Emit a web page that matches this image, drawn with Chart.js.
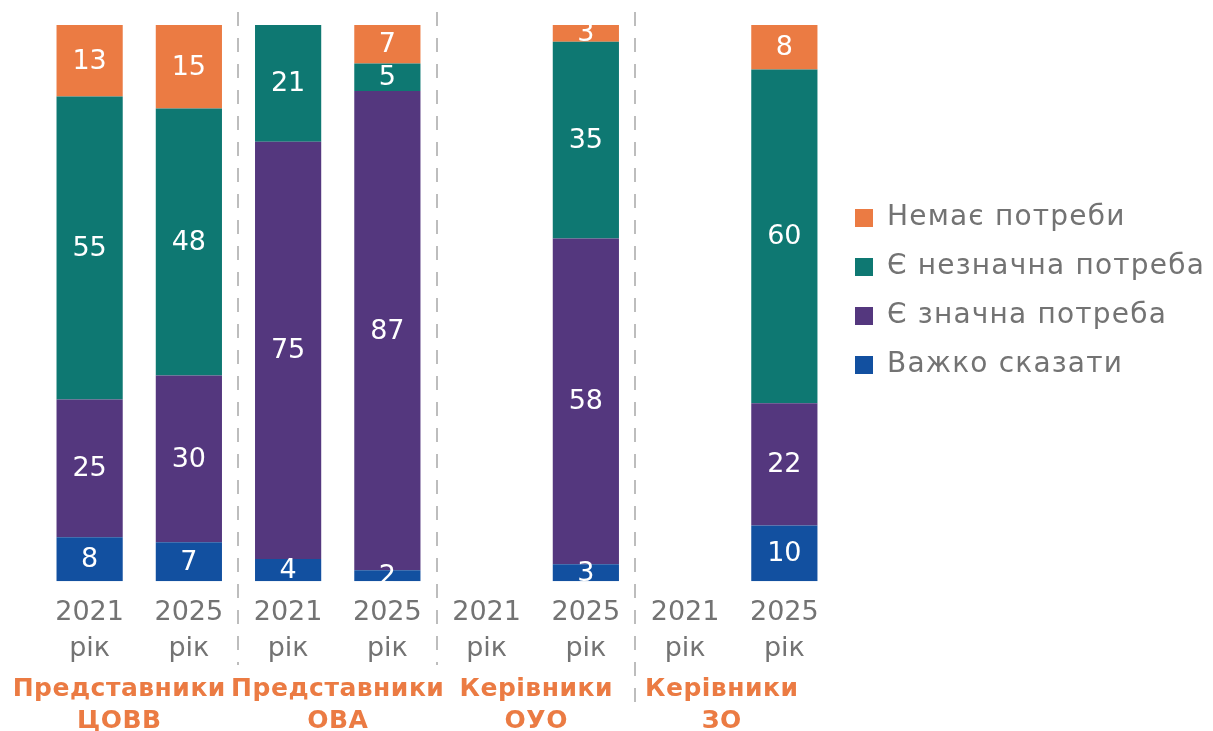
<!DOCTYPE html>
<html>
<head>
<meta charset="utf-8">
<script src="https://cdn.jsdelivr.net/npm/chart.js@4.4.1/dist/chart.umd.min.js"></script>
<style>
  html, body { margin: 0; padding: 0; background: #fff; }
  #wrap { width: 1213px; height: 731px; position: relative; }
</style>
</head>
<body>
<div id="wrap"><canvas id="chart"></canvas></div>
<script>
const FONT = '"DejaVu Sans", sans-serif';

// categories
const years = [['2021', 'рік'], ['2025', 'рік'], ['2021', 'рік'], ['2025', 'рік'],
               ['2021', 'рік'], ['2025', 'рік'], ['2021', 'рік'], ['2025', 'рік']];
const groups = [['Представники', 'ЦОВВ'], ['Представники', 'ОВА'], ['Керівники', 'ОУО'], ['Керівники', 'ЗО']];

// series (%), null = no data
const hardToSay = [8, 7, 4, 2, null, 3, null, 10];
const bigNeed   = [25, 30, 75, 87, null, 58, null, 22];
const smallNeed = [55, 48, 21, 5, null, 35, null, 60];
const noNeed    = [13, 15, null, 7, null, 3, null, 8];

const colors = {
    noNeed: '#EB7B43',
    smallNeed: '#0E7872',
    bigNeed: '#54377E',
    hardToSay: '#1250A0'
};

// each bar fills 100% (labels are rounded values)
const totals = years.map((_, i) => [hardToSay, bigNeed, smallNeed, noNeed]
    .reduce((s, arr) => s + (arr[i] || 0), 0));
const share = arr => arr.map((v, i) => v == null || !totals[i] ? null : v / totals[i] * 100);

function ds(label, arr, color) {
    return {
        label: label,
        data: share(arr),
        rawValues: arr,
        backgroundColor: color,
        borderWidth: 0,
        barPercentage: 0.667,
        categoryPercentage: 1
    };
}

// wider legend text (the original font is wider than DejaVu)
const LEGEND_SPACING = '1.2px';
const legendSpacing = {
    id: 'legendSpacing',
    afterInit(chart) {
        const lg = chart.legend;
        ['fit', 'draw'].forEach(name => {
            const orig = lg[name];
            lg[name] = function () {
                chart.ctx.save();
                chart.ctx.letterSpacing = LEGEND_SPACING;
                orig.apply(this, arguments);
                chart.ctx.restore();
            };
        });
    }
};

const valueLabels = {
    id: 'valueLabels',
    afterDatasetsDraw(chart) {
        const ctx = chart.ctx;
        ctx.save();
        ctx.fillStyle = '#fff';
        ctx.font = '27px ' + FONT;
        ctx.textAlign = 'center';
        ctx.textBaseline = 'middle';
        chart.data.datasets.forEach((d, di) => {
            chart.getDatasetMeta(di).data.forEach((el, i) => {
                const v = d.rawValues[i];
                if (v == null) return;
                ctx.fillText(String(v), el.x, (el.y + el.base) / 2 + 1);
            });
        });
        ctx.restore();
    }
};

const separators = {
    id: 'separators',
    beforeDatasetsDraw(chart) {
        const x = chart.scales.x;
        const ctx = chart.ctx;
        const ends = [665, 665, 705];
        ctx.save();
        ctx.strokeStyle = '#BDBDBD';
        ctx.lineWidth = 2;
        ctx.setLineDash([14, 12]);
        [1, 3, 5].forEach((i, k) => {
            const px = Math.round((x.getPixelForValue(i) + x.getPixelForValue(i + 1)) / 2);
            ctx.beginPath();
            ctx.moveTo(px, 12);
            ctx.lineTo(px, ends[k]);
            ctx.stroke();
        });
        ctx.restore();
    }
};

const groupLabels = {
    id: 'groupLabels',
    afterDraw(chart) {
        const x = chart.scales.x;
        const bottom = chart.chartArea.bottom;
        const ctx = chart.ctx;
        const nudge = [-20, 0, 0, -13];
        ctx.save();
        ctx.fillStyle = '#EB7B43';
        ctx.font = 'bold 25px ' + FONT;
        ctx.letterSpacing = '0.5px';
        ctx.textAlign = 'center';
        ctx.textBaseline = 'middle';
        groups.forEach((g, k) => {
            const cx = (x.getPixelForValue(2 * k) + x.getPixelForValue(2 * k + 1)) / 2 + nudge[k];
            ctx.fillText(g[0], cx, bottom + 108);
            ctx.fillText(g[1], cx, bottom + 140);
        });
        ctx.restore();
    }
};

new Chart(document.getElementById('chart'), {
    type: 'bar',
    data: {
        labels: years,
        datasets: [
            ds('Важко сказати', hardToSay, colors.hardToSay),
            ds('Є значна потреба', bigNeed, colors.bigNeed),
            ds('Є незначна потреба', smallNeed, colors.smallNeed),
            ds('Немає потреби', noNeed, colors.noNeed)
        ]
    },
    options: {
        responsive: true,
        maintainAspectRatio: false,
        animation: false,
        layout: { padding: { top: 25, left: 40, right: -2, bottom: 50 } },
        scales: {
            x: {
                stacked: true,
                grid: { display: false, drawTicks: false },
                border: { display: false },
                ticks: {
                    color: '#737373',
                    font: { family: FONT, size: 27, lineHeight: 1.33 },
                    padding: 14,
                    maxRotation: 0,
                    autoSkip: false
                }
            },
            y: {
                stacked: true,
                min: 0,
                max: 100,
                display: false
            }
        },
        plugins: {
            legend: {
                position: 'right',
                align: 'start',
                reverse: true,
                title: { display: true, text: '', padding: { top: 143.6, bottom: 0 } },
                labels: {
                    boxWidth: 18,
                    boxHeight: 18,
                    padding: 21,
                    color: '#737373',
                    font: { family: FONT, size: 28 }
                }
            },
            tooltip: { enabled: false }
        }
    },
    plugins: [legendSpacing, separators, valueLabels, groupLabels]
});
</script>
</body>
</html>
